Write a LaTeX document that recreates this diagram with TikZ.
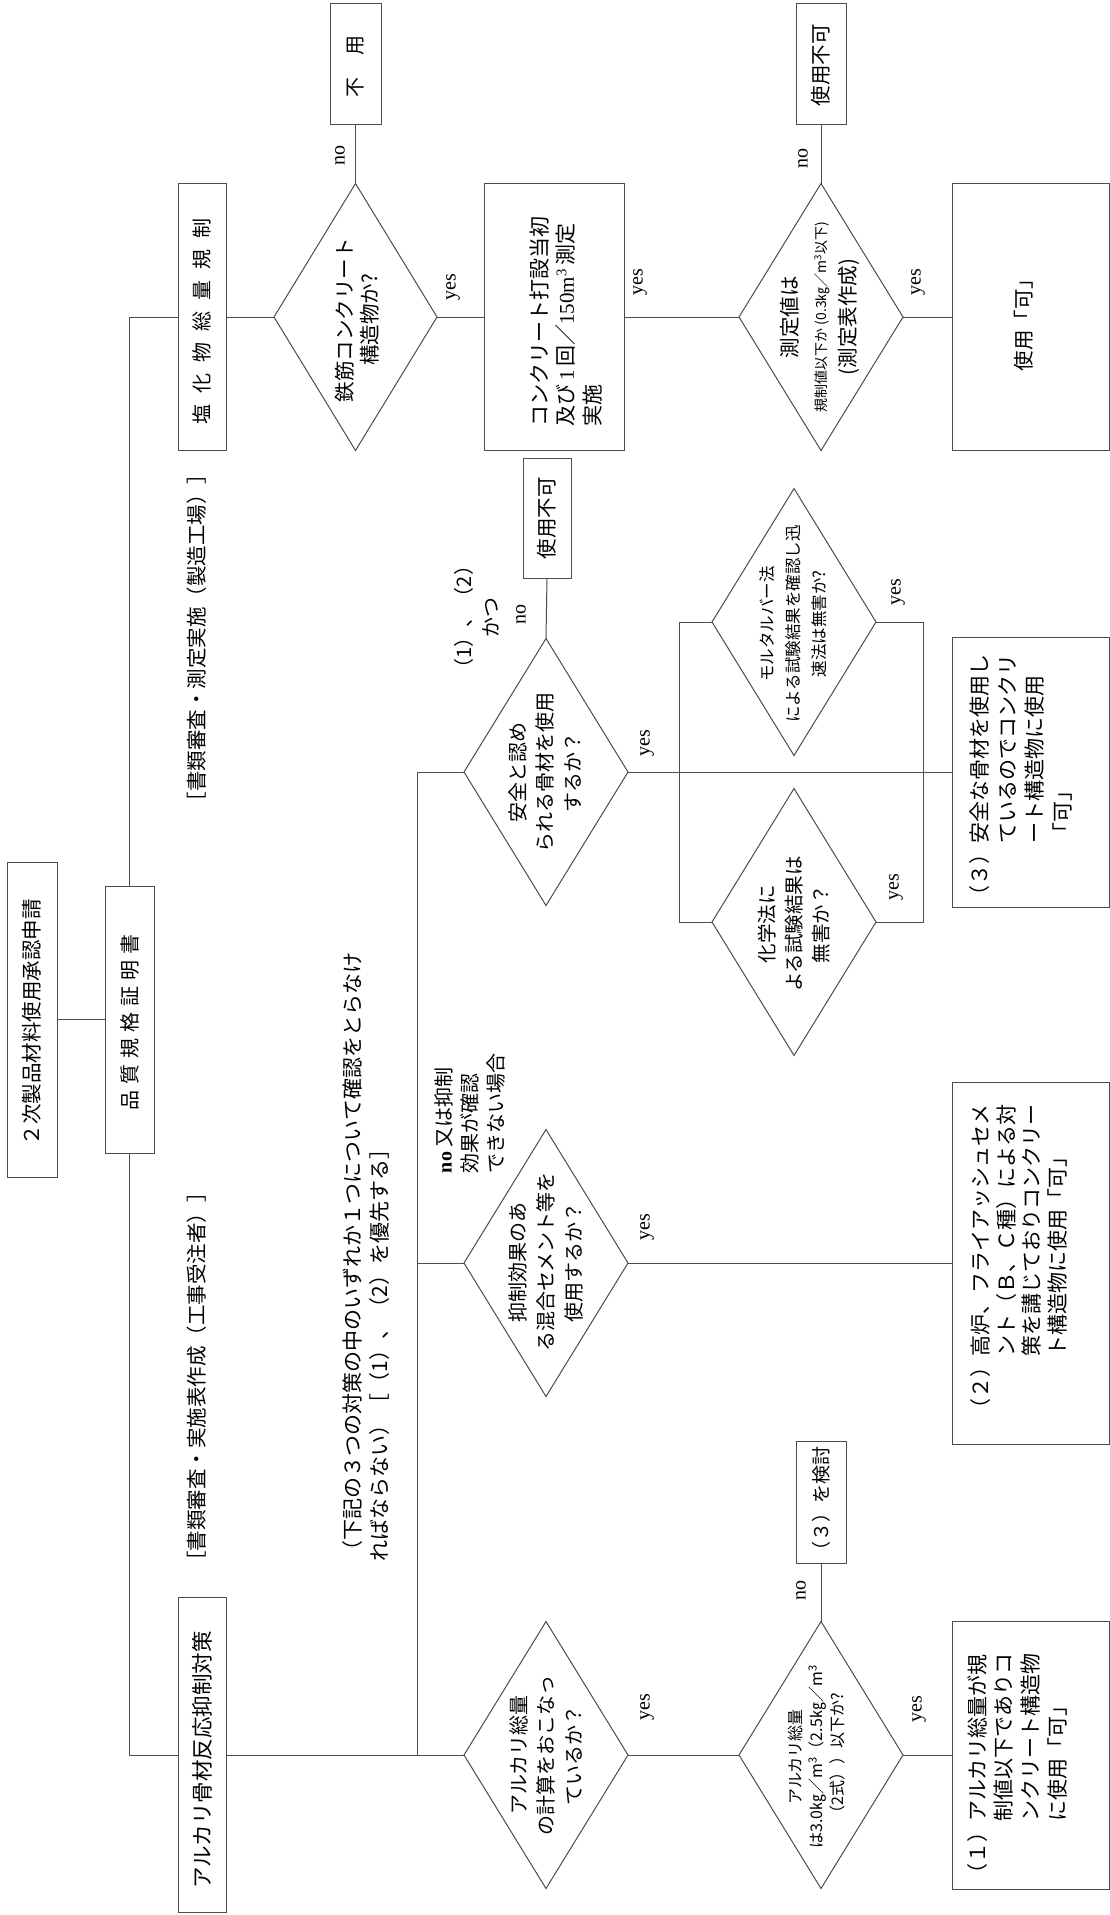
\documentclass[tikz,border=0pt]{standalone}
\usepackage{fontspec}
\setmainfont{Liberation Serif}
\newfontfamily\jp{Noto Sans CJK JP}
\usetikzlibrary{shapes.geometric}
\newcommand\myfs[2]{\fontsize{#1}{#2}\selectfont}
\tikzset{
  shp/.style={draw=black!70, line width=1pt, inner sep=0pt, outer sep=0pt},
  rbox/.style={shp, rectangle},
  dia/.style={shp, diamond, minimum width=164pt, minimum height=267pt},
  txt/.style={rotate=90, inner sep=0pt, align=center, font=\jp\myfs{20.5}{27}},
  txtl/.style={rotate=90, inner sep=0pt, align=left, font=\jp\myfs{21}{26.5}},
  lbl/.style={rotate=90, inner sep=0pt, font=\myfs{20}{24}},
  conn/.style={draw=black!70, line width=1pt}
}
\begin{document}
\begin{tikzpicture}[x=1pt, y=-1pt]
\path[fill=white, use as bounding box] (0,0) rectangle (1110,1915);

% ---- shapes ----
\node[rbox, minimum width=50pt, minimum height=315pt] (app) at (32,1019.5) {};
\node[rbox, minimum width=49pt, minimum height=267pt] (hin) at (129.5,1019.5) {};
\node[rbox, minimum width=48pt, minimum height=267pt] (enka) at (202,317) {};
\node[rbox, minimum width=48pt, minimum height=315pt] (alkali) at (202,1755) {};
\node[dia, minimum width=163pt] (tekkin) at (355.5,317) {};
\node[rbox, minimum width=51pt, minimum height=121pt] (fuyou) at (355.5,64) {};
\node[rbox, minimum width=140pt, minimum height=267pt] (conc) at (554,317) {};
\node[dia] (sokutei) at (821,317) {};
\node[rbox, minimum width=50pt, minimum height=121pt] (fuka1) at (821,64) {};
\node[rbox, minimum width=157pt, minimum height=267pt] (ka) at (1030.5,317) {};

\node[dia] (anzen) at (546,772) {};
\node[rbox, minimum width=48pt, minimum height=120pt] (fuka2) at (547,518) {};
\node[dia] (mortar) at (794,622) {};
\node[dia] (kagaku) at (794,922) {};
\node[rbox, minimum width=157pt, minimum height=270pt] (box3) at (1030.5,772) {};

\node[dia] (yokusei) at (546,1263) {};
\node[rbox, minimum width=157pt, minimum height=362pt] (box2) at (1030.5,1263.5) {};

\node[dia] (alk1) at (546,1755) {};
\node[dia] (alk2) at (821,1755) {};
\node[rbox, minimum width=50pt, minimum height=122pt] (ken) at (821,1502) {};
\node[rbox, minimum width=157pt, minimum height=268pt] (box1) at (1030.5,1755) {};

% ---- junction coordinates ----
\coordinate (lTop) at (129.5,317);
\coordinate (lBot) at (129.5,1755);
\coordinate (tTop) at (417.5,772);
\coordinate (tMid) at (417.5,1263);
\coordinate (tBot) at (417.5,1755);
\coordinate (rTL) at (679,622);
\coordinate (rBL) at (679,922);
\coordinate (rTR) at (923,622);
\coordinate (rBR) at (923,922);

% ---- connectors ----
\draw[conn] (app.east) -- (hin.west);
\draw[conn] (hin.north) -- (lTop) -- (enka.west);
\draw[conn] (hin.south) -- (lBot) -- (alkali.west);
\draw[conn] (enka.east) -- (tekkin.west);
\draw[conn] (tekkin.north) -- (fuyou.south);
\draw[conn] (tekkin.east) -- (conc.west);
\draw[conn] (conc.east) -- (sokutei.west);
\draw[conn] (sokutei.north) -- (fuka1.south);
\draw[conn] (sokutei.east) -- (ka.west);
\draw[conn] (alkali.east) -- (alk1.west);
\draw[conn] (tBot) -- (tTop) -- (anzen.west);
\draw[conn] (tMid) -- (yokusei.west);
\draw[conn] (anzen.north) -- (fuka2.south);
\draw[conn] (anzen.east) -- (box3.west);
\draw[conn] (mortar.west) -- (rTL) -- (rBL) -- (kagaku.west);
\draw[conn] (mortar.east) -- (rTR) -- (rBR) -- (kagaku.east);
\draw[conn] (yokusei.east) -- (yokusei.east -| box2.west);
\draw[conn] (alk1.east) -- (alk2.west);
\draw[conn] (alk2.north) -- (ken.south);
\draw[conn] (alk2.east) -- (box1.west);

% ---- texts in shapes ----
\node[txt] (tApp) at (32,1022) {２次製品材料使用承認申請};
\node[txt, font=\jp\myfs{20}{27}] (tHin) at (129.5,1022) {品\hspace{0.3em}質\hspace{0.3em}規\hspace{0.3em}格\hspace{0.3em}証\hspace{0.3em}明\hspace{0.3em}書};
\node[txt, font=\jp\myfs{20}{27}] (tEnka) at (202,321) {塩\hspace{0.55em}化\hspace{0.55em}物\hspace{0.55em}総\hspace{0.55em}量\hspace{0.55em}規\hspace{0.55em}制};
\node[txt, font=\jp\myfs{21.5}{27}] (tAlkali) at (202,1760) {アルカリ骨材反応抑制対策};
\node[txt, font=\jp\myfs{20}{27}] (tFuyou) at (355.5,66) {不\hspace{1.1em}用};
\node[txt, font=\jp\myfs{20.5}{25}] (tTekkin) at (357,320) {鉄筋コンクリート\\構造物か?};
\node[txtl] (tConc) at (566,321) {コンクリート打設当初\\及び\,{\rmfamily 1}\,回／{\rmfamily 150m\textsuperscript{3}}\,測定\\実施};
\node[txt, font=\jp\myfs{20.5}{29}] (tSokutei) at (820,317) {測定値は\\{\myfs{14}{29}規制値以下か (0.3㎏／m\textsuperscript{3}以下)}\\(測定表作成)};
\node[txt] (tFuka1) at (821,65) {使用不可};
\node[txt] (tKa) at (1024,320) {使用「可」};

\node[txt] (tFuka2) at (547,518) {使用不可};
\node[txt, font=\jp\myfs{20}{27}] (tKakko) at (477,617) {（1）、（2）\\かつ};
\node[txt, font=\jp\myfs{20}{27.5}] (tAnzen) at (545,772) {安全と認め\\られる骨材を使用\\するか？};
\node[txt, font=\jp\myfs{16.5}{26}] (tMortar) at (793,624) {モルタルバー法\\による試験結果を確認し迅\\速法は無害か?};
\node[txt, font=\jp\myfs{19.5}{27}] (tKagaku) at (794,924) {化学法に\\よる試験結果は\\無害か？};
\node[txtl, font=\jp\myfs{21}{27.5}] (tBox3) at (1021,780) {（３）安全な骨材を使用し\\\hphantom{（３）}ているのでコンクリ\\\hphantom{（３）}ート構造物に使用\\\hphantom{（３）}「可」};

\node[txt, font=\jp\myfs{20}{28}] (tYokusei) at (546,1262) {抑制効果のあ\\る混合セメント等を\\使用するか？};
\node[txtl, font=\jp\myfs{20}{26}] (tNomata) at (470,1113) {{\rmfamily\bfseries no} 又は抑制\\効果が確認\\できない場合};
\node[txtl, font=\jp\myfs{21}{25.5}] (tBox2) at (1019,1262) {（２）高炉、フライアッシュセメ\\\hphantom{（２）}ント（Ｂ、Ｃ種）による対\\\hphantom{（２）}策を講じておりコンクリー\\\hphantom{（２）}ト構造物に使用「可」};

\node[txt, font=\jp\myfs{20}{27.5}] (tAlk1) at (546,1755) {アルカリ総量\\の計算をおこなっ\\ているか？};
\node[txt, font=\jp\myfs{16}{21}] (tAlk2) at (817,1757) {アルカリ総量\\は3.0㎏／m\textsuperscript{3}（2.5㎏／m\textsuperscript{3}\\（2式））以下か?};
\node[txt, font=\jp\myfs{19}{25}] (tKen) at (821,1503) {（３）を検討};
\node[txtl, font=\jp\myfs{21}{26.7}] (tBox1) at (1017,1769) {（１）アルカリ総量が規\\\hphantom{（１）}制値以下でありコ\\\hphantom{（１）}ンクリート構造物\\\hphantom{（１）}に使用「可」};

% ---- free texts ----
\node[txt] (tShorui1) at (197,638) {［書類審査・測定実施（製造工場）］};
\node[txt] (tShorui2) at (197,1377) {［書類審査・実施表作成（工事受注者）］};
\node[txtl, font=\jp\myfs{21}{27}] (tKaki) at (366.5,1257) {（下記の３つの対策の中のいずれか１つについて確認をとらなけ\\ればならない）［（1）、（2）を優先する］};

% ---- yes / no labels ----
\node[lbl] (n1) at (340,155) {no};
\node[lbl] (y1) at (453,287) {yes};
\node[lbl] (y2) at (640,282) {yes};
\node[lbl] (n2) at (803,158) {no};
\node[lbl] (y3) at (918,282) {yes};
\node[lbl] (n3) at (521,614) {no};
\node[lbl] (y4) at (647,743) {yes};
\node[lbl] (y5) at (898,592) {yes};
\node[lbl] (y6) at (896,887) {yes};
\node[lbl] (y7) at (647,1227) {yes};
\node[lbl] (y8) at (647,1707) {yes};
\node[lbl] (n4) at (801,1590) {no};
\node[lbl] (y9) at (919,1709) {yes};
\end{tikzpicture}
\end{document}
